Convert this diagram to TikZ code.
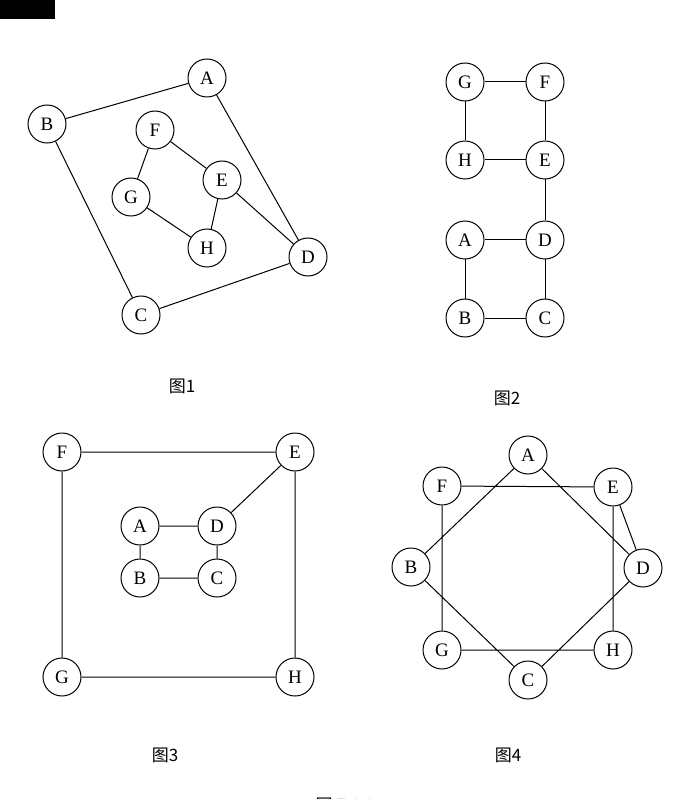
\documentclass[tikz,border=0pt]{standalone}
\usepackage{fontspec}
\setmainfont{Liberation Serif}
\newfontfamily\cjk{Noto Sans CJK SC}
\begin{document}
\begin{tikzpicture}[x=1pt,y=-1pt,line width=1pt,
  vx/.style={circle,draw,fill=white,minimum size=38pt,inner sep=0pt,font=\fontsize{19}{19}\selectfont},
  figcap/.style={font=\cjk\fontsize{17}{17}\selectfont}]
\useasboundingbox (0,0) rectangle (672,799);
\clip (0,0) rectangle (672,799);
\fill (0,0) rectangle (55,19);
% fig1
\node[vx] (1A) at (207,78) {A};
\node[vx] (1B) at (47,124) {B};
\node[vx] (1F) at (155,130) {F};
\node[vx] (1E) at (222,180) {E};
\node[vx] (1G) at (131,197) {G};
\node[vx] (1H) at (207,248) {H};
\node[vx] (1D) at (308,257) {D};
\node[vx] (1C) at (141,315) {C};
\draw (1A)--(1B) (1A)--(1D) (1B)--(1C) (1C)--(1D) (1F)--(1E) (1F)--(1G) (1G)--(1H) (1H)--(1E) (1E)--(1D);
% fig2
\node[vx] (2G) at (465,82) {G};
\node[vx] (2F) at (545,82) {F};
\node[vx] (2H) at (465,160) {H};
\node[vx] (2E) at (545,160) {E};
\node[vx] (2A) at (465,240) {A};
\node[vx] (2D) at (545,240) {D};
\node[vx] (2B) at (465,318) {B};
\node[vx] (2C) at (545,318) {C};
\draw (2G)--(2F) (2G)--(2H) (2F)--(2E) (2H)--(2E) (2E)--(2D) (2A)--(2D) (2A)--(2B) (2B)--(2C) (2C)--(2D);
% fig3
\node[vx] (3F) at (62,452) {F};
\node[vx] (3E) at (295,452) {E};
\node[vx] (3A) at (140,526) {A};
\node[vx] (3D) at (217,526) {D};
\node[vx] (3B) at (140,578) {B};
\node[vx] (3C) at (217,578) {C};
\node[vx] (3G) at (62,677) {G};
\node[vx] (3H) at (295,677) {H};
\draw (3F)--(3E) (3F)--(3G) (3G)--(3H) (3E)--(3H) (3E)--(3D) (3A)--(3D) (3A)--(3B) (3B)--(3C) (3D)--(3C);
% fig4
\node[vx] (4A) at (528,455) {A};
\node[vx] (4F) at (442,486) {F};
\node[vx] (4E) at (613,487) {E};
\node[vx] (4B) at (411,567) {B};
\node[vx] (4D) at (643,568) {D};
\node[vx] (4G) at (442,650) {G};
\node[vx] (4H) at (613,650) {H};
\node[vx] (4C) at (528,680) {C};
\draw (4A)--(4B) (4A)--(4D) (4F)--(4E) (4F)--(4G) (4E)--(4D) (4E)--(4H) (4B)--(4C) (4D)--(4C) (4G)--(4H);
% captions
\node[figcap] (c1) at (182,386) {图1};
\node[figcap] (c2) at (507,398) {图2};
\node[figcap] (c3) at (165,755) {图3};
\node[figcap] (c4) at (508,755) {图4};
\node[figcap] (c5) at (345,805) {图 7.4.1};
\end{tikzpicture}
\end{document}
